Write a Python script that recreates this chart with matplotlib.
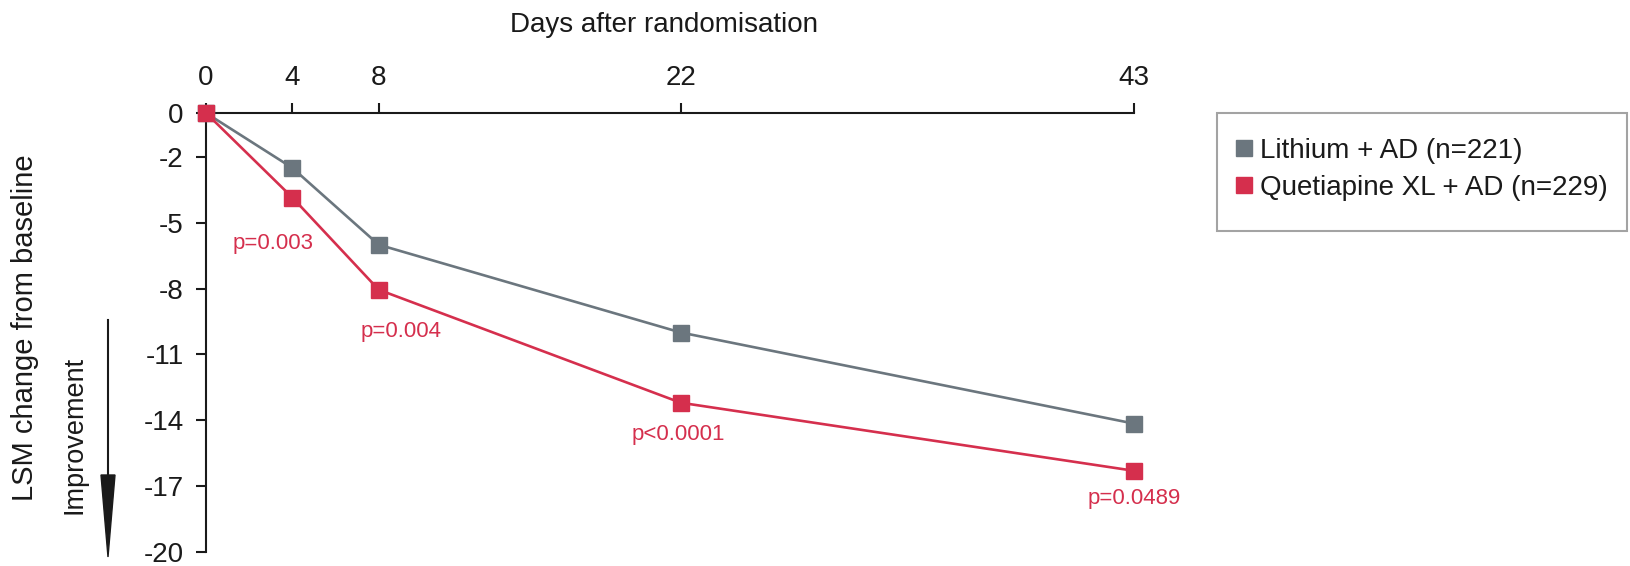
import matplotlib
matplotlib.use("Agg")
import matplotlib.pyplot as plt
from matplotlib.lines import Line2D
from matplotlib.patches import Rectangle, Polygon

plt.rcParams['font.family'] = ['Liberation Sans', 'DejaVu Sans']

# data
days = [0, 4, 8, 22, 43]
lithium = [0, -2.5, -6.0, -10.0, -14.15]
quetiapine = [0, -3.85, -8.05, -13.2, -16.3]
yticks = [0, -2, -5, -8, -11, -14, -17, -20]
p_labels = ['p=0.003', 'p=0.004', 'p<0.0001', 'p=0.0489']
p_days = [4, 8, 22, 43]
p_offsets = [(-14, -33), (16, -30), (-2, -23), (0, -20)]  # points

grey = '#6b767e'
red = '#d52f4d'
black = '#1a1a1a'

W, H = 1631, 566
fig = plt.figure(figsize=(W / 100, H / 100), dpi=100)
ax = fig.add_axes([206/W, 14/H, 928/W, 439/H])

ax.plot(days, lithium, color=grey, lw=1.9, marker='s', ms=11.5,
        clip_on=False, zorder=3)
ax.plot(days, quetiapine, color=red, lw=1.9, marker='s', ms=11.5,
        clip_on=False, zorder=4)

for lab, d, off in zip(p_labels, p_days, p_offsets):
    y = quetiapine[days.index(d)]
    ax.annotate(lab, (d, y), xytext=off, textcoords='offset points',
                ha='center', va='center', color=red, fontsize=16)

ax.set_xlim(0, 43)
ax.set_ylim(-20, 0)
ax.set_xticks(days)
ax.set_yticks(yticks)
ax.set_yticklabels([str(t) for t in yticks])
ax.xaxis.tick_top()
ax.xaxis.set_label_position('top')
ax.tick_params(axis='both', labelsize=20, width=1.5, length=7, pad=9,
               colors=black)
for s in ['right', 'bottom']:
    ax.spines[s].set_visible(False)
for s in ['left', 'top']:
    ax.spines[s].set_linewidth(1.5)
    ax.spines[s].set_color(black)
ax.set_xlabel('Days after randomisation', fontsize=20, color=black)
ax.xaxis.set_label_coords((664 - 206) / 928, (113 - 25) / 439 + 1)
ax.xaxis.label.set_va('center')

fig.text(25/W, 1 - 328/H, 'LSM change from baseline', rotation=90,
         ha='center', va='center', fontsize=21, color=black)
fig.text(75/W, 1 - 435/H, 'Improvement', rotation=90,
         ha='center', va='center', fontsize=19.5, color=black)
fig.add_artist(Line2D([108/W, 108/W], [1 - 320/H, 1 - 480/H],
                      color=black, lw=1.5))
fig.patches.append(Polygon([[101/W, 1 - 475/H], [115/W, 1 - 475/H],
                            [108/W, 1 - 557/H]], closed=True,
                           facecolor=black, edgecolor=black,
                           transform=fig.transFigure, figure=fig))

# legend box
fig.patches.append(Rectangle((1217/W, 1 - 231/H), 410/W, 118/H,
                             fill=False, edgecolor='#a3a3a3', lw=1.5,
                             transform=fig.transFigure, figure=fig))
handles = [Line2D([], [], ls='none', marker='s', ms=11, color=grey),
           Line2D([], [], ls='none', marker='s', ms=11, color=red)]
leg = fig.legend(handles, ['Lithium + AD (n=221)', 'Quetiapine XL + AD (n=229)'],
                 loc='upper left', bbox_to_anchor=(1236/W, 1 - 138/H),
                 borderaxespad=0, borderpad=0, fontsize=20, frameon=False,
                 labelspacing=0.38, handlelength=0.6, handletextpad=0.25)
for t in leg.get_texts():
    t.set_color(black)

fig.savefig('out.png', dpi=100)
